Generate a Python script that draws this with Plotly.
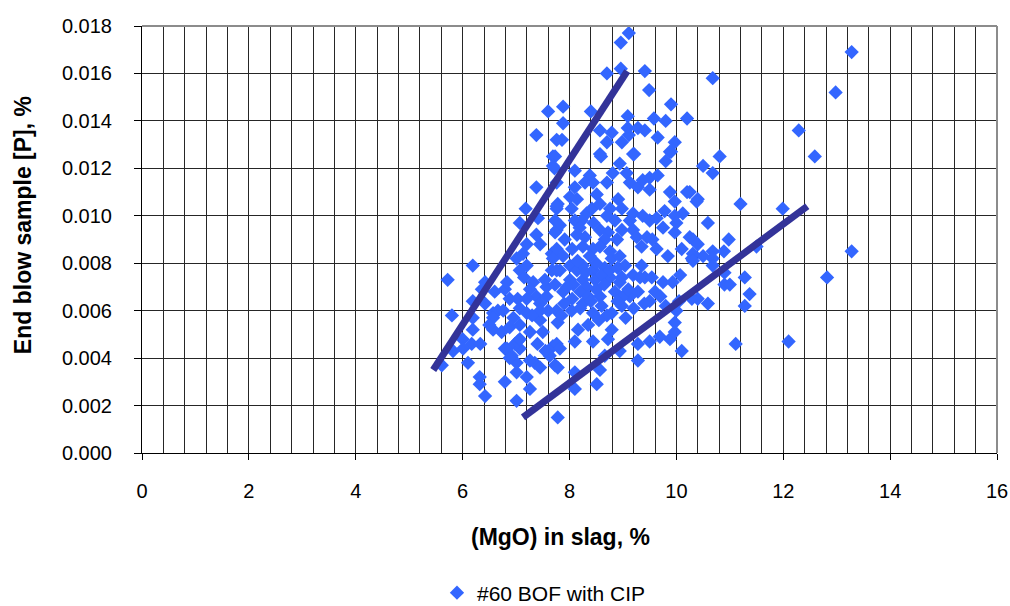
import plotly.graph_objects as go

# (MgO) in slag, % and end-blow sample [P], % for each heat
heats = [
    # upper / sparse region
    (9.11, 0.0177), (8.96, 0.0173), (8.70, 0.0160), (8.96, 0.0162), (9.41, 0.0161),
    (9.49, 0.0153), (7.88, 0.0146), (7.88, 0.0139), (8.40, 0.0144), (9.90, 0.0147),
    (9.09, 0.0142), (9.58, 0.0141), (9.80, 0.0140), (10.20, 0.0141), (8.57, 0.0136),
    (8.79, 0.0135), (9.09, 0.0137), (9.28, 0.0137), (9.41, 0.0136), (9.65, 0.0133),
    (8.70, 0.0131), (8.98, 0.0131), (9.11, 0.0134), (9.97, 0.0131), (9.90, 0.0127),
    (9.19, 0.0126), (8.57, 0.0126), (7.60, 0.0144), (7.38, 0.0134), (7.76, 0.0132),
    (7.86, 0.0132), (7.69, 0.0125), (7.72, 0.0120), (7.38, 0.0112), (7.18, 0.0103),
    (7.07, 0.0097), (7.38, 0.0092), (7.20, 0.0088), (7.45, 0.0088), (7.41, 0.0099),
    (7.76, 0.0103), (7.76, 0.0094), (7.67, 0.0084),
    # high MgO heats
    (13.28, 0.0169), (10.68, 0.0158), (12.98, 0.0152), (12.29, 0.0136), (10.81, 0.0125),
    (10.50, 0.0121), (10.68, 0.0118), (12.59, 0.0125), (10.25, 0.0110), (10.40, 0.0107),
    (11.20, 0.0105), (11.99, 0.0103), (10.59, 0.0097), (10.98, 0.0090), (10.31, 0.0090),
    (10.40, 0.0088), (10.68, 0.0085), (10.89, 0.0085), (10.50, 0.0083), (10.68, 0.0082),
    (10.29, 0.0082), (11.50, 0.0087), (13.28, 0.0085), (10.68, 0.0079), (10.90, 0.0076),
    (11.28, 0.0074), (12.82, 0.0074), (10.90, 0.0071), (11.00, 0.0071), (11.37, 0.0067),
    (11.28, 0.0062), (10.40, 0.0065), (10.59, 0.0063), (11.11, 0.0046), (12.10, 0.0047),
    # low MgO heats
    (5.72, 0.0073), (5.80, 0.0058), (5.61, 0.0037), (6.19, 0.0079), (6.42, 0.0072),
    (6.36, 0.0069), (6.19, 0.0064), (6.42, 0.0063), (6.57, 0.0059), (6.19, 0.0057),
    (6.19, 0.0052), (6.57, 0.0052), (6.73, 0.0051), (6.00, 0.0048), (6.17, 0.0046),
    (6.33, 0.0046), (5.82, 0.0043), (6.01, 0.0044), (6.10, 0.0038), (6.79, 0.0044),
    (6.32, 0.0032), (6.32, 0.0029), (6.42, 0.0024), (6.79, 0.0030), (7.01, 0.0022),
    (7.20, 0.0032), (7.26, 0.0027), (7.01, 0.0034), (7.01, 0.0038), (6.92, 0.0041),
    (6.83, 0.0044), (6.98, 0.0046), (7.07, 0.0044), (7.03, 0.0047), (6.88, 0.0040),
    (7.35, 0.0038), (7.45, 0.0036), (7.26, 0.0039), (7.73, 0.0037), (6.66, 0.0060),
    (6.57, 0.0057), (6.76, 0.0060), (6.88, 0.0065), (6.79, 0.0069), (6.83, 0.0072),
    (7.03, 0.0065), (7.07, 0.0061), (7.20, 0.0059), (6.88, 0.0053), (7.07, 0.0054),
    (7.26, 0.0051), (7.45, 0.0056), (7.50, 0.0051), (7.69, 0.0045), (7.63, 0.0041),
    (7.07, 0.0077), (7.01, 0.0082), (7.20, 0.0079), (7.13, 0.0084), (7.32, 0.0072),
    (7.26, 0.0069), (7.38, 0.0066), (7.20, 0.0065), (7.45, 0.0063), (7.57, 0.0066),
    (7.57, 0.0070), (7.67, 0.0077), (7.54, 0.0073), (7.76, 0.0077), (7.07, 0.0048),
    (7.78, 0.0015), (6.60, 0.0068), (6.50, 0.0054), (6.95, 0.0057), (7.15, 0.0074),
    # central cluster
    (8.59, 0.0125), (9.21, 0.0126), (9.88, 0.0127), (9.80, 0.0123), (7.73, 0.0125),
    (7.69, 0.0121), (7.76, 0.0114), (8.10, 0.0119), (8.38, 0.0117), (8.29, 0.0114),
    (8.10, 0.0112), (8.44, 0.0114), (8.70, 0.0114), (8.94, 0.0122), (8.81, 0.0118),
    (9.07, 0.0118), (9.13, 0.0114), (9.28, 0.0112), (9.37, 0.0115), (9.50, 0.0116),
    (9.65, 0.0117), (9.50, 0.0111), (9.88, 0.0110), (10.20, 0.0110), (9.97, 0.0106),
    (10.38, 0.0106), (10.12, 0.0101), (7.78, 0.0105), (7.76, 0.0104), (8.01, 0.0108),
    (8.14, 0.0107), (8.04, 0.0103), (8.32, 0.0101), (8.42, 0.0103), (8.51, 0.0109),
    (8.57, 0.0105), (8.76, 0.0103), (8.91, 0.0107), (8.98, 0.0103), (8.85, 0.0098),
    (8.70, 0.0100), (9.13, 0.0098), (9.19, 0.0101), (9.37, 0.0100), (9.50, 0.0098),
    (9.63, 0.0099), (9.78, 0.0102), (9.97, 0.0100), (7.73, 0.0098), (7.82, 0.0096),
    (8.10, 0.0098), (8.23, 0.0098), (8.19, 0.0095), (8.14, 0.0092), (8.29, 0.0091),
    (8.57, 0.0094), (8.72, 0.0093), (8.66, 0.0090), (8.89, 0.0090), (8.98, 0.0094),
    (9.19, 0.0094), (9.26, 0.0091), (9.45, 0.0091), (9.97, 0.0093), (10.25, 0.0091),
    (7.91, 0.0090), (7.73, 0.0093), (7.76, 0.0086), (7.88, 0.0083), (7.69, 0.0082),
    (8.25, 0.0087), (8.44, 0.0086), (8.38, 0.0083), (8.57, 0.0087), (8.76, 0.0085),
    (8.79, 0.0082), (8.94, 0.0083), (9.04, 0.0079), (8.66, 0.0078), (9.19, 0.0075),
    (9.35, 0.0079), (9.41, 0.0074), (9.63, 0.0086), (9.84, 0.0083), (10.10, 0.0086),
    (10.31, 0.0084), (10.31, 0.0081), (10.07, 0.0075), (8.01, 0.0079), (8.14, 0.0077),
    (8.25, 0.0079), (8.44, 0.0077), (7.82, 0.0077), (8.01, 0.0073), (8.25, 0.0073),
    (8.48, 0.0073), (8.76, 0.0074), (8.98, 0.0074), (9.32, 0.0074), (9.54, 0.0074),
    (9.75, 0.0072), (8.30, 0.0076), (8.60, 0.0075), (8.75, 0.0077), (8.90, 0.0078),
    (8.15, 0.0081), (8.50, 0.0080), (9.35, 0.0087), (9.55, 0.0090), (9.75, 0.0095),
    (10.00, 0.0097), (8.45, 0.0097), (8.05, 0.0086),
    # lower centre
    (7.73, 0.0071), (7.88, 0.0068), (8.04, 0.0060), (7.76, 0.0060), (7.78, 0.0055),
    (8.16, 0.0052), (8.10, 0.0047), (8.44, 0.0047), (7.76, 0.0046), (7.82, 0.0044),
    (7.78, 0.0036), (8.10, 0.0034), (8.57, 0.0035), (8.51, 0.0029), (8.10, 0.0027),
    (8.72, 0.0048), (8.79, 0.0052), (8.66, 0.0041), (8.94, 0.0043), (9.28, 0.0039),
    (9.28, 0.0046), (9.50, 0.0047), (9.69, 0.0049), (9.88, 0.0048), (9.97, 0.0051),
    (9.97, 0.0055), (10.10, 0.0043), (10.00, 0.0060), (9.50, 0.0064), (9.60, 0.0068),
    (8.98, 0.0062), (8.79, 0.0059), (9.13, 0.0066), (9.28, 0.0068), (8.94, 0.0072),
    (8.57, 0.0066), (8.25, 0.0063), (8.44, 0.0059), (8.70, 0.0058), (8.32, 0.0070),
    (8.07, 0.0071), (10.29, 0.0065), (9.93, 0.0072), (8.20, 0.0068), (8.35, 0.0066),
    (8.50, 0.0069), (8.65, 0.0071), (8.85, 0.0068), (9.00, 0.0066), (8.60, 0.0062),
    (8.40, 0.0064), (8.20, 0.0061), (8.05, 0.0065), (8.90, 0.0064), (9.10, 0.0069),
    (7.95, 0.0070), (7.90, 0.0063), (7.60, 0.0060), (7.45, 0.0060), (7.30, 0.0058),
    (7.40, 0.0046), (7.55, 0.0043), (7.85, 0.0058), (8.35, 0.0054), (8.55, 0.0056),
    (9.05, 0.0057), (9.20, 0.0061), (9.40, 0.0063), (9.70, 0.0066), (9.80, 0.0062),
    (10.05, 0.0064),
]
mgo_pct = [h[0] for h in heats]
p_pct = [h[1] for h in heats]

# hand-drawn bounding trend lines
upper_x = [5.45, 9.08]
upper_y = [0.0035, 0.0161]
lower_x = [7.13, 12.45]
lower_y = [0.0015, 0.0104]

x_ticks = [0, 2, 4, 6, 8, 10, 12, 14, 16]
y_ticks = [0.000, 0.002, 0.004, 0.006, 0.008, 0.010, 0.012, 0.014, 0.016, 0.018]

FONT = "Liberation Sans, Arial, sans-serif"
GRID = "#262626"

fig = go.Figure()
fig.add_trace(go.Scatter(
    x=mgo_pct, y=p_pct, mode="markers", name="#60 BOF with CIP",
    marker=dict(symbol="diamond", size=11, color="#3366FF", line=dict(width=0)),
))
for lx, ly in ((upper_x, upper_y), (lower_x, lower_y)):
    fig.add_trace(go.Scatter(
        x=lx, y=ly, mode="lines", showlegend=False, hoverinfo="skip",
        line=dict(color="#333399", width=7),
    ))

fig.update_layout(
    width=1010, height=606, autosize=False,
    margin=dict(l=142, r=13, t=26, b=153, autoexpand=False),
    paper_bgcolor="white", plot_bgcolor="white",
    font=dict(family=FONT, size=20, color="black"),
    showlegend=True,
    legend=dict(orientation="h", x=0.345, xanchor="left", y=-0.328, yanchor="middle",
                font=dict(size=21), bgcolor="rgba(0,0,0,0)",
                borderwidth=0),
    xaxis=dict(
        range=[0, 16], tickvals=x_ticks, ticktext=[str(v) for v in x_ticks],
        ticks="outside", ticklen=6, tickcolor="black", automargin=False,
        showline=True, linecolor="black", linewidth=1, zeroline=False,
        showgrid=True, gridcolor=GRID, gridwidth=1,
        minor=dict(dtick=0.4, tick0=0, showgrid=True, gridcolor=GRID, gridwidth=1),
        tickfont=dict(size=20), ticklabelstandoff=14,
    ),
    yaxis=dict(
        range=[0, 0.018], tickvals=y_ticks, ticktext=[f"{v:.3f}" for v in y_ticks],
        ticks="outside", ticklen=7, tickcolor="black", automargin=False,
        showline=True, linecolor="black", linewidth=1, zeroline=False,
        showgrid=True, gridcolor=GRID, gridwidth=1,
        tickfont=dict(size=20), ticklabelstandoff=18,
    ),
    shapes=[
        dict(type="line", xref="paper", yref="paper", x0=0, x1=1, y0=1, y1=1,
             line=dict(color="#8c8c8c", width=2)),
        dict(type="line", xref="paper", yref="paper", x0=1, x1=1, y0=0, y1=1,
             line=dict(color="#8c8c8c", width=2)),
    ],
    annotations=[
        dict(text="<b>(MgO) in slag, %</b>", xref="paper", yref="paper",
             x=0.489, y=-0.197, xanchor="center", yanchor="middle",
             showarrow=False, font=dict(size=23)),
        dict(text="<b>End blow sample [P], %</b>", xref="paper", yref="paper",
             x=-0.139, y=0.534, xanchor="center", yanchor="middle", textangle=-90,
             showarrow=False, font=dict(size=23)),
    ],
)

fig.write_html("out.html")
